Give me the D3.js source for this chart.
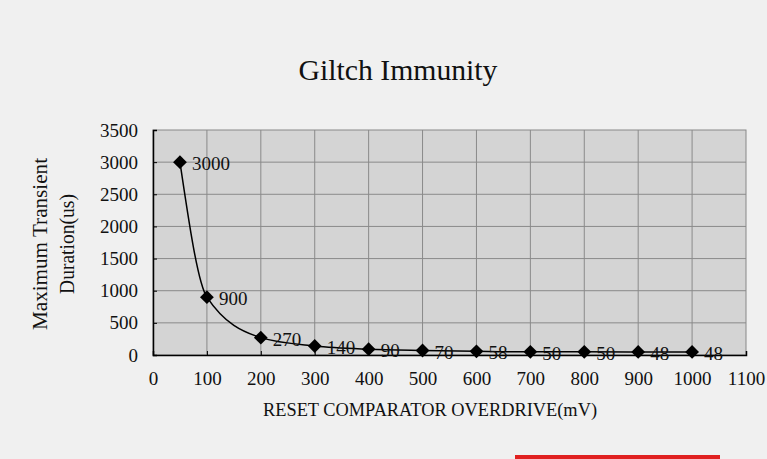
<!DOCTYPE html>
<html>
<head>
<meta charset="utf-8">
<script src="https://cdn.jsdelivr.net/npm/d3@7"></script>
<style>
  body { margin: 0; background: #f0f0f0; }
  svg text { font-family: "Liberation Serif", "DejaVu Serif", serif; fill: #111; }
</style>
</head>
<body>
<svg id="chart"></svg>
<script>
// data
var overdrive = [50, 100, 200, 300, 400, 500, 600, 700, 800, 900, 1000];
var duration = [3000, 900, 270, 140, 90, 70, 58, 50, 50, 48, 48];
var xTicks = [0, 100, 200, 300, 400, 500, 600, 700, 800, 900, 1000, 1100];
var yTicks = [0, 500, 1000, 1500, 2000, 2500, 3000, 3500];

var screen = {width: 767, height: 459};
var margins = {top: 130, right: 21, bottom: 104, left: 153};

var width = screen.width - margins.left - margins.right;
var height = screen.height - margins.top - margins.bottom;

var svg = d3.select("#chart")
    .attr("width", screen.width)
    .attr("height", screen.height);

svg.append("rect")
    .attr("width", screen.width)
    .attr("height", screen.height)
    .attr("fill", "#f0f0f0");

var xScale = d3.scaleLinear()
    .domain([0, 1100])
    .range([0, width]);

var yScale = d3.scaleLinear()
    .domain([0, 3500])
    .range([height, 0]);

var graph = svg.append("g")
    .attr("id", "graph")
    .attr("transform", "translate(" + margins.left + "," + margins.top + ")");

graph.append("rect")
    .attr("width", width)
    .attr("height", height)
    .attr("fill", "#d4d4d4")
    .attr("stroke", "#888")
    .attr("stroke-width", 1);

// grid
graph.append("g")
    .selectAll("line")
    .data(xTicks.slice(1, -1))
    .enter()
    .append("line")
    .attr("x1", function(d) { return xScale(d); })
    .attr("x2", function(d) { return xScale(d); })
    .attr("y1", 0)
    .attr("y2", height)
    .attr("stroke", "#8a8a8a");

graph.append("g")
    .selectAll("line")
    .data(yTicks.slice(1, -1))
    .enter()
    .append("line")
    .attr("x1", 0)
    .attr("x2", width)
    .attr("y1", function(d) { return yScale(d); })
    .attr("y2", function(d) { return yScale(d); })
    .attr("stroke", "#8a8a8a");

// axes
var xAxis = d3.axisBottom(xScale).tickValues(xTicks).tickFormat(d3.format("d")).tickSize(-4).tickPadding(17);
var yAxis = d3.axisLeft(yScale).tickValues(yTicks).tickFormat(d3.format("d")).tickSize(-4).tickPadding(15);

var gx = graph.append("g")
    .attr("transform", "translate(0," + height + ")")
    .call(xAxis);
var gy = graph.append("g")
    .call(yAxis);

[gx, gy].forEach(function(g) {
    g.select(".domain").attr("stroke", "#000").attr("stroke-width", 1.5);
    g.selectAll(".tick line").attr("stroke", "#000");
    g.selectAll(".tick text")
        .style("font-family", "'Liberation Serif', serif")
        .style("font-size", "19px")
        .attr("fill", "#111");
});

// line
var line = d3.line()
    .x(function(d, i) { return xScale(overdrive[i]); })
    .y(function(d) { return yScale(d); })
    .curve(d3.curveMonotoneX);

graph.append("path")
    .datum(duration)
    .attr("d", line)
    .attr("fill", "none")
    .attr("stroke", "#000")
    .attr("stroke-width", 1.5);

graph.append("g")
    .selectAll("path")
    .data(duration)
    .enter()
    .append("path")
    .attr("d", d3.symbol().type(d3.symbolSquare).size(95))
    .attr("transform", function(d, i) {
        return "translate(" + xScale(overdrive[i]) + "," + yScale(d) + ") rotate(45)";
    })
    .attr("fill", "#000");

graph.append("g")
    .selectAll("text")
    .data(duration)
    .enter()
    .append("text")
    .attr("x", function(d, i) { return xScale(overdrive[i]) + 12; })
    .attr("y", function(d) { return yScale(d) + 8; })
    .style("font-size", "19px")
    .text(function(d) { return d; });

// titles
svg.append("text")
    .attr("x", 398)
    .attr("y", 80)
    .attr("text-anchor", "middle")
    .attr("textLength", 199)
    .attr("lengthAdjust", "spacingAndGlyphs")
    .style("font-size", "30px")
    .text("Giltch Immunity");

svg.append("text")
    .attr("x", 430)
    .attr("y", 416)
    .attr("text-anchor", "middle")
    .attr("textLength", 334)
    .attr("lengthAdjust", "spacingAndGlyphs")
    .style("font-size", "19px")
    .text("RESET COMPARATOR OVERDRIVE(mV)");

var yTitle = svg.append("text")
    .attr("transform", "translate(47,244) rotate(-90)")
    .attr("text-anchor", "middle")
    .style("font-size", "20px");
yTitle.append("tspan").attr("x", 0).attr("dy", 0)
    .attr("textLength", 172).attr("lengthAdjust", "spacingAndGlyphs")
    .text("Maximum Transient");
yTitle.append("tspan").attr("x", 0).attr("dy", 27)
    .attr("textLength", 100).attr("lengthAdjust", "spacingAndGlyphs")
    .text("Duration(us)");

svg.append("rect")
    .attr("x", 515)
    .attr("y", 455)
    .attr("width", 205)
    .attr("height", 4)
    .attr("fill", "#e02020");
</script>
</body>
</html>
